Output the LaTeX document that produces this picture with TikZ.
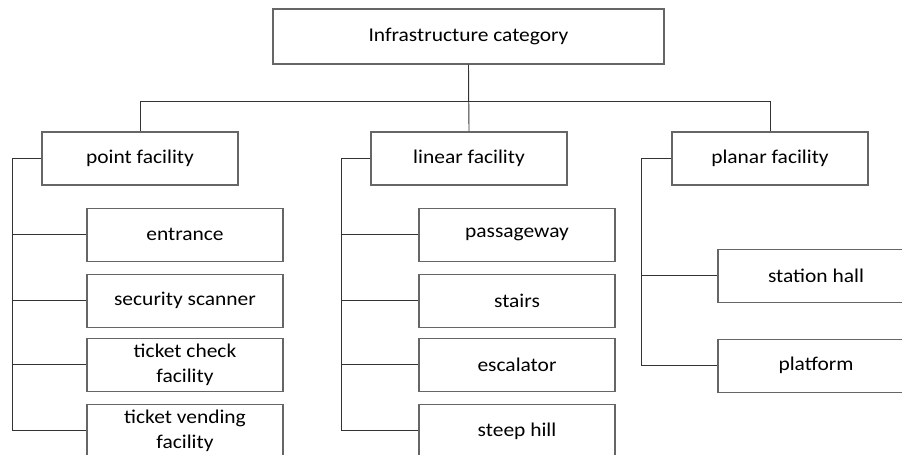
\documentclass[tikz,border=0pt]{standalone}
\usepackage{fontspec}
\setmainfont{Carlito}[FakeStretch=1.1]
\usepackage{tikz}
\usetikzlibrary{positioning}

\begin{document}
\begin{tikzpicture}[x=1pt,y=-1pt,node distance=12pt,
  box/.style={draw=black!60,line width=1.1pt,minimum width=196pt,minimum height=53pt,
    inner sep=0pt,align=center,font=\fontsize{19.5}{25}\selectfont},
  link/.style={draw=black!80,line width=0.9pt}]
    \useasboundingbox (0,0) rectangle (902,455);
    % top level
    \node[box,minimum width=391pt,minimum height=55pt](root) at (468.5,36.5){Infrastructure category};
    \node[box](point) at (140,158.5){point facility};
    \node[box](linear) at (469,158.5){linear facility};
    \node[box](planar) at (770,158.5){planar facility};
    % point facility
    \node[box,below right=22pt and 45pt of point.south west](entrance){entrance};
    \node[box,below=of entrance](scanner){security scanner};
    \node[box,below=10pt of scanner](check){ticket check\\facility};
    \node[box,below=of check](vending){ticket vending\\facility};
    % linear facility
    \node[box,below right=22pt and 48pt of linear.south west](passage){passageway};
    \node[box,below=of passage](stairs){stairs};
    \node[box,below=10pt of stairs](escalator){escalator};
    \node[box,below=of escalator](hill){steep hill};
    % planar facility
    \node[box,below right=63pt and 46pt of planar.south west](hall){station hall};
    \node[box,below=36pt of hall](platform){platform};
    % links
    \path[link] (root.south) edge (linear.north);
    \path[link] (root.south) -- +(0,37) -| (point.north);
    \path[link] (root.south) -- +(0,37) -| (planar.north);
    \foreach \c in {entrance,scanner,check,vending}
      \draw[link] (point.west) -- +(-29,0) |- (\c.west);
    \foreach \c in {passage,stairs,escalator,hill}
      \draw[link] (linear.west) -- +(-29,0) |- (\c.west);
    \foreach \c in {hall,platform}
      \draw[link] (planar.west) -- +(-30,0) |- (\c.west);
\end{tikzpicture}
\end{document}
